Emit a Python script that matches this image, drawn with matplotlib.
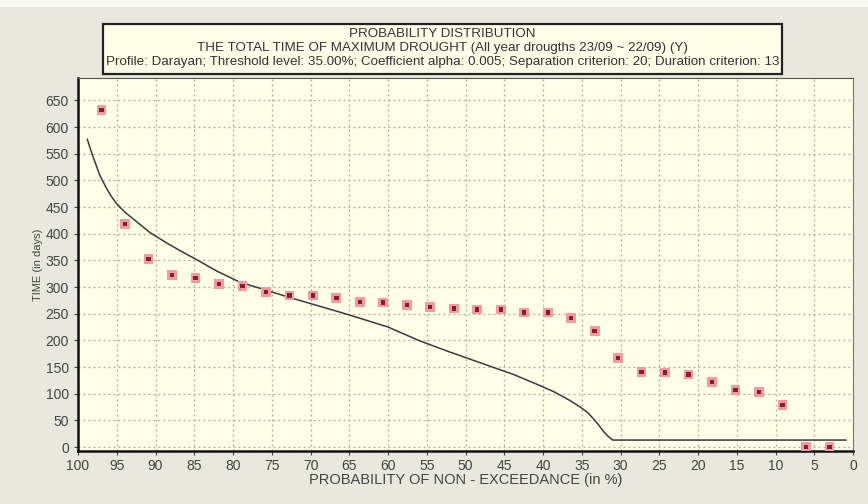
import matplotlib
matplotlib.use("Agg")
import matplotlib.pyplot as plt
from matplotlib.patches import Rectangle

# observed points (Weibull plotting positions, n = 32)
prob_points = [96.97, 93.94, 90.91, 87.88, 84.85, 81.82, 78.79, 75.76, 72.73, 69.70,
               66.67, 63.64, 60.61, 57.58, 54.55, 51.52, 48.48, 45.45, 42.42, 39.39,
               36.36, 33.33, 30.30, 27.27, 24.24, 21.21, 18.18, 15.15, 12.12, 9.09,
               6.06, 3.03]
time_points = [632, 418, 352, 322, 317, 306, 302, 291, 284, 284,
               279, 272, 271, 266, 263, 260, 258, 258, 252, 252,
               242, 218, 167, 141, 140, 136, 122, 107, 103, 79,
               0, 0]

# fitted distribution curve
prob_curve = [98.8, 98.2, 97.7, 97.2, 96.5, 95.8, 95.0, 94.0, 92.9, 91.8, 90.7, 88.6,
              86.8, 84.9, 82.1, 79.1, 75.7, 72.6, 70.0, 65.3, 60.0, 55.9, 52.0, 48.1,
              43.8, 41.0, 38.5, 36.5, 35.2, 34.2, 33.5, 32.8, 32.3, 31.6, 31.0, 0.9]
time_curve = [577, 550, 530, 510, 490, 472, 456, 441, 428, 415, 402, 383,
              368, 353, 330, 309, 294, 280, 269, 249, 225, 199, 178, 158,
              136, 119, 103, 87, 75, 64, 53, 41, 31, 20, 13, 13]

title_lines = [
    "PROBABILITY DISTRIBUTION",
    "THE TOTAL TIME OF MAXIMUM DROUGHT (All year drougths 23/09 ~ 22/09) (Y)",
    "Profile: Darayan; Threshold level: 35.00%; Coefficient alpha: 0.005; "
    "Separation criterion: 20; Duration criterion: 13",
]

plt.rcParams["font.family"] = ["Liberation Sans", "DejaVu Sans"]

W, H = 868, 504
fig = plt.figure(figsize=(W / 100, H / 100), dpi=100, facecolor="#e8e8df")
fig.patches.append(Rectangle((0, 1 - 7 / H), 1, 7 / H, transform=fig.transFigure,
                             facecolor="#f7f7f4", edgecolor="none", zorder=0))

# title box
bx0, bx1, by0, by1 = 103, 782, 24, 74
fig.patches.append(Rectangle((bx0 / W, 1 - by1 / H), (bx1 - bx0) / W, (by1 - by0) / H,
                             transform=fig.transFigure, facecolor="#fdfde8",
                             edgecolor="#222222", linewidth=1.6, zorder=1))
for txt, yy in zip(title_lines, [34, 48.5, 62.5]):
    fig.text((bx0 + bx1) / 2 / W, 1 - yy / H, txt, ha="center", va="center",
             fontsize=9.6, color="#333333", zorder=2)

ax = fig.add_axes([78 / W, 1 - 451 / H, (853 - 78) / W, (451 - 78) / H])
ax.set_facecolor("#ffffe8")

ax.plot(prob_curve, time_curve, color="#3a3a3a", linewidth=1.1, zorder=3)
ax.scatter(prob_points, time_points, marker="s", s=48, color="#f09aa2",
           edgecolors="none", zorder=4)
ax.scatter(prob_points, time_points, marker="s", s=10, color="#8a1c2c",
           edgecolors="none", zorder=5)

ax.set_xlim(100, 0)
ax.set_ylim(-7.5, 692)
ax.set_xticks(range(100, -1, -5))
ax.set_yticks(range(0, 651, 50))
ax.grid(True, color="#a8a8a0", linestyle=(0, (1.5, 2.5)), linewidth=0.9)
ax.set_axisbelow(True)

for side in ["left", "bottom"]:
    ax.spines[side].set_linewidth(1.8)
    ax.spines[side].set_color("#111111")
ax.spines["top"].set_color("#555555")
ax.spines["right"].set_color("#777777")
ax.spines["right"].set_linestyle((0, (1, 1)))

ax.tick_params(axis="both", labelsize=10, colors="#444444", length=3, width=0.8)
ax.tick_params(axis="x", pad=3)
ax.set_xlabel("PROBABILITY OF NON - EXCEEDANCE (in %)", fontsize=10.5,
              color="#444444", labelpad=0)
ax.set_ylabel("TIME (in days)", fontsize=8, color="#444444", labelpad=2)

fig.savefig("out.png", dpi=100, facecolor=fig.get_facecolor())
